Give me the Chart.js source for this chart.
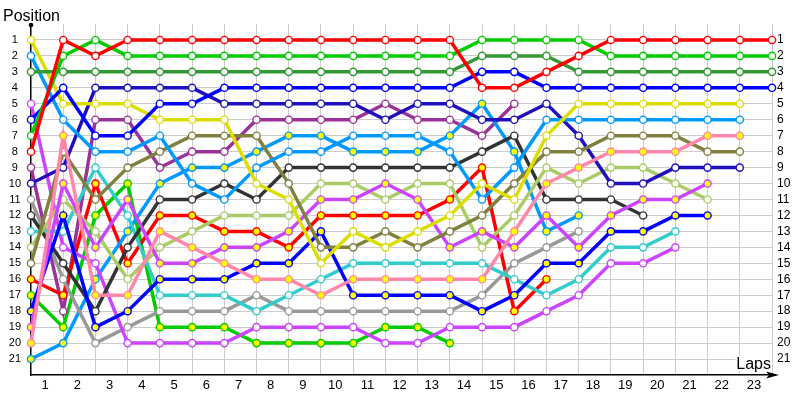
<!DOCTYPE html>
<html>
<head>
<meta charset="utf-8">
<script src="https://cdn.jsdelivr.net/npm/chart.js@4.4.1/dist/chart.umd.min.js"></script>
<style>
html,body{margin:0;padding:0;background:#fff;}
#wrap{width:800px;height:400px;position:relative;}
</style>
</head>
<body>
<div id="wrap"><canvas id="c" width="800" height="400"></canvas></div>
<script>
// ---- data ----
const LAPS = [0,1,2,3,4,5,6,7,8,9,10,11,12,13,14,15,16,17,18,19,20,21,22,23];
const POSITION_TICKS = [1,2,3,4,5,6,7,8,9,10,11,12,13,14,15,16,17,18,19,20,21];

const red1      = [8,1,2,1,1,1,1,1,1,1,1,1,1,1,4,4,3,2,1,1,1,1,1,1];
const green1    = [7,2,1,2,2,2,2,2,2,2,2,2,2,2,1,1,1,1,2,2,2,2,2,2];
const darkGreen = [3,3,3,3,3,3,3,3,3,3,3,3,3,3,2,2,2,3,3,3,3,3,3,3];
const blue1     = [6,4,7,7,5,5,4,4,4,4,4,4,4,4,3,3,4,4,4,4,4,4,4,4];
const indigo    = [10,9,4,4,4,4,5,5,5,5,5,6,5,5,6,6,5,7,10,10,9,9,9,null];
const yellow1   = [1,5,5,5,6,6,6,10,11,15,13,14,13,12,10,11,7,5,5,5,5,5,5,null];
const lightBlue1= [2,6,8,8,7,10,11,9,8,8,7,7,7,8,11,9,6,6,6,6,6,6,6,null];
const pinkY     = [20,7,17,17,13,14,15,16,16,17,16,16,16,16,16,13,10,9,8,8,8,7,7,null];
const olive     = [15,8,11,9,8,7,7,7,10,14,14,13,14,13,12,10,8,8,7,7,7,8,8,null];
const lightGreen= [14,11,13,16,14,13,12,12,12,10,10,11,10,10,14,12,9,10,9,9,10,11,null,null];
const violetY   = [19,10,14,11,15,15,14,14,13,11,11,10,11,14,13,14,12,14,12,11,11,10,null,null];
const blueY     = [18,12,19,18,16,16,16,15,15,13,17,17,17,17,18,17,15,15,13,13,12,12,null,null];
const teal      = [13,13,9,12,17,17,17,18,17,16,15,15,15,15,15,16,17,16,14,14,13,null,null,null];
const violet1   = [5,14,15,20,20,20,20,19,19,19,19,20,20,19,19,19,18,17,15,15,14,null,null,null];
const darkGray  = [12,15,18,14,11,11,10,11,9,9,9,9,9,9,8,7,11,11,11,12,null,null,null,null];
const gray      = [11,16,20,19,18,18,18,17,18,18,18,18,18,18,17,15,14,13,null,null,null,null,null,null];
const lightBlueY= [21,20,16,13,10,9,9,8,7,7,8,8,8,7,5,8,13,12,null,null,null,null,null,null];
const redY      = [16,17,10,15,12,12,13,13,14,12,12,12,12,11,9,18,16,null,null,null,null,null,null,null];
const purple    = [9,18,6,6,9,8,8,6,6,6,6,5,6,6,7,5,null,null,null,null,null,null,null,null];
const greenY    = [17,19,12,10,19,19,19,20,20,20,20,19,19,20,null,null,null,null,null,null,null,null,null,null];

// ---- series table (line colour, marker fill) ----
const SERIES = [
  [red1, '#ff0000', '#ffffff'],
  [green1, '#00cc00', '#ffffff'],
  [darkGreen, '#339933', '#ffffff'],
  [blue1, '#0000ff', '#ffffff'],
  [yellow1, '#dddd00', '#ffffff'],
  [lightBlue1, '#0099ff', '#ffffff'],
  [pinkY, '#ff88aa', '#ffff00'],
  [olive, '#808040', '#ffffff'],
  [indigo, '#2010bb', '#ffffff'],
  [violetY, '#cc44ff', '#ffff00'],
  [lightGreen, '#aacc66', '#ffffff'],
  [blueY, '#0000ff', '#ffff00'],
  [darkGray, '#333333', '#ffffff'],
  [teal, '#33cccc', '#ffffff'],
  [violet1, '#cc44ff', '#ffffff'],
  [gray, '#999999', '#ffffff'],
  [lightBlueY, '#0099ff', '#ffff00'],
  [redY, '#ff0000', '#ffff00'],
  [purple, '#993399', '#ffffff'],
  [greenY, '#00cc00', '#ffff00']
];

const FONT = "'Liberation Sans', Arial, sans-serif";

const datasets = SERIES.map(([d, col, fill]) => ({
  data: d,
  borderColor: col,
  backgroundColor: col,
  borderWidth: 3.5,
  pointRadius: 3.6,
  pointBorderWidth: 1.4,
  pointBorderColor: col,
  pointBackgroundColor: fill,
  tension: 0,
  spanGaps: false,
  clip: false
}));

const decor = {
  id: 'decor',
  afterDraw(chart) {
    const ctx = chart.ctx, a = chart.chartArea;
    ctx.save();
    // y-axis top dot
    ctx.fillStyle = '#000';
    ctx.beginPath();
    ctx.arc(a.left, a.top + 1, 2.3, 0, Math.PI * 2);
    ctx.fill();
    // x-axis extension + arrow
    ctx.strokeStyle = '#000';
    ctx.lineWidth = 1.5;
    ctx.beginPath();
    ctx.moveTo(a.right, a.bottom);
    ctx.lineTo(a.right + 4, a.bottom);
    ctx.stroke();
    ctx.beginPath();
    ctx.moveTo(a.right + 7, a.bottom);
    ctx.lineTo(a.right - 6, a.bottom - 3.5);
    ctx.lineTo(a.right - 3, a.bottom);
    ctx.lineTo(a.right - 6, a.bottom + 3.5);
    ctx.closePath();
    ctx.fill();
    // titles
    ctx.font = '16px ' + FONT;
    ctx.textBaseline = 'alphabetic';
    ctx.textAlign = 'left';
    ctx.fillStyle = '#000';
    ctx.fillText('Position', 3, 21);
    const w = ctx.measureText('Laps').width;
    ctx.fillStyle = '#fff';
    ctx.fillRect(a.right - w - 2, a.bottom - 19, w + 2, 15);
    ctx.fillStyle = '#000';
    ctx.fillText('Laps', a.right - w - 1, a.bottom - 6);
    ctx.restore();
  }
};

new Chart(document.getElementById('c'), {
  type: 'line',
  data: { labels: LAPS, datasets },
  options: {
    responsive: false,
    animation: false,
    events: [],
    layout: { padding: { top: 24, left: 0, right: 0, bottom: 0 } },
    plugins: { legend: { display: false }, tooltip: { enabled: false } },
    scales: {
      x: {
        type: 'category',
        offset: false,
        afterFit: s => { s.height = 25; },
        grid: {
          drawTicks: false,
          color: c => (c.index === 0 ? 'rgba(0,0,0,0)' : '#cccccc'),
          lineWidth: 1
        },
        border: { display: true, color: '#000', width: 1.5 },
        ticks: {
          autoSkip: false,
          maxRotation: 0,
          padding: 3,
          labelOffset: -18,
          color: '#000',
          font: { family: FONT, size: 13 },
          callback: (v, i) => (i === 0 ? '' : String(LAPS[i]))
        }
      },
      y: {
        type: 'linear',
        position: 'left',
        min: 0, max: 22,
        reverse: true,
        afterFit: s => { s.width = 31; },
        afterBuildTicks: s => { s.ticks = POSITION_TICKS.map(v => ({ value: v })); },
        grid: { drawTicks: false, color: '#cccccc', lineWidth: 1 },
        border: { display: true, color: '#000', width: 1.5 },
        ticks: {
          crossAlign: 'center',
          padding: 10,
          color: '#000',
          font: { family: FONT, size: 11 },
          callback: v => String(v)
        }
      },
      y2: {
        type: 'linear',
        position: 'right',
        min: 0, max: 22,
        reverse: true,
        afterFit: s => { s.width = 28; },
        afterBuildTicks: s => { s.ticks = POSITION_TICKS.map(v => ({ value: v })); },
        grid: { display: false, drawTicks: false },
        border: { display: false },
        ticks: {
          padding: 5,
          color: '#000',
          font: { family: FONT, size: 12 },
          callback: v => String(v)
        }
      }
    }
  },
  plugins: [decor]
});
</script>
</body>
</html>
